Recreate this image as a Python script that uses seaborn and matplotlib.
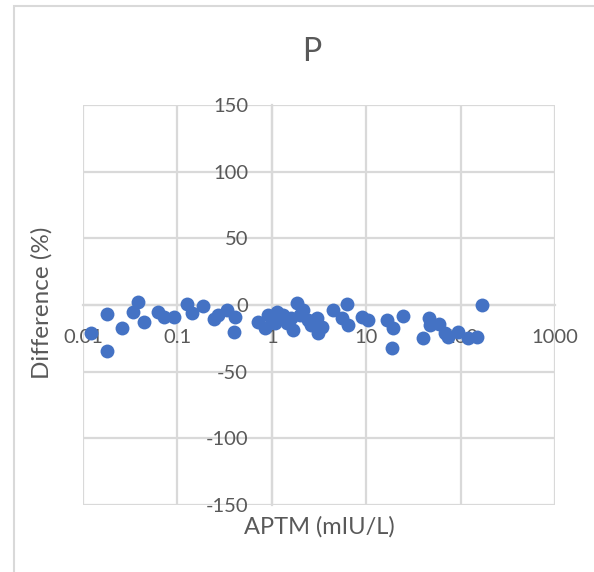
import matplotlib
matplotlib.use("Agg")
import matplotlib.pyplot as plt
import seaborn as sns
import pandas as pd
from matplotlib.patches import Rectangle
from matplotlib.ticker import FixedLocator, NullLocator

# ---- data ----
aptm = [0.0121, 0.0181, 0.0181, 0.0257, 0.038, 0.0341, 0.0444, 0.063, 0.0728, 0.093,
        0.1276, 0.142, 0.186, 0.245, 0.272, 0.334, 0.409, 0.40,
        0.72, 0.847, 0.92, 1.13, 1.08, 1.32, 1.44, 1.83, 1.69, 2.16, 2.44, 2.99,
        3.11, 3.38, 4.49, 5.51, 6.22, 6.46, 8.96, 10.5, 1.0, 1.6, 2.0, 2.6,
        16.5, 19.4, 18.9, 24.4, 40.3, 46.6, 47.4, 59.5, 68.3, 74.0, 94.7, 121.0, 148.0, 167.0]
difference = [-21.2, -7.0, -34.3, -17.0, 2.0, -5.0, -13.0, -5.0, -9.2, -8.8,
              1.0, -6.2, -0.8, -10.5, -7.5, -3.8, -9.2, -20.0,
              -12.5, -17.5, -7.5, -5.0, -13.7, -7.5, -13.7, 1.5, -18.7, -3.8, -11.2, -10.0,
              -21.2, -16.3, -3.8, -10.0, 0.5, -15.0, -8.8, -11.2, -11.0, -10.0, -7.5, -15.0,
              -11.2, -17.5, -32.5, -8.0, -24.5, -9.5, -15.0, -14.5, -21.2, -24.0, -20.0, -25.0, -23.8, 0.0]

x_ticks = [0.01, 0.1, 1, 10, 100, 1000]
x_tick_labels = ["0.01", "0.1", "1", "10", "100", "1000"]
y_ticks = [-150, -100, -50, 0, 50, 100, 150]
y_tick_labels = ["-150", "-100", "-50", "0", "50", "100", "150"]

title = "P"
x_label = "APTM (mIU/L)"
y_label = "Difference (%)"

df = pd.DataFrame({"APTM": aptm, "Difference": difference})

sns.set_style("white")
plt.rcParams["font.family"] = ["Lato", "DejaVu Sans"]

W, H = 594, 572
fig = plt.figure(figsize=(W / 100, H / 100), dpi=100)
fig.patch.set_facecolor("white")

# outer chart border (cut off at right/bottom like the reference)
fig.patches.append(Rectangle((14 / W, -0.05), 1.2, 1 - 6 / H + 0.05, transform=fig.transFigure,
                             fill=False, edgecolor="#D9D9D9", linewidth=1.5))

left, right, top, bottom = 83, 555, 105, 505
ax = fig.add_axes([left / W, 1 - bottom / H, (right - left) / W, (bottom - top) / H])

grid_c = "#D9D9D9"
text_c = "#595959"
blue = "#4472C4"

ax.set_xscale("log")
ax.set_xlim(0.01, 1000)
ax.set_ylim(-150, 150)
ax.xaxis.set_major_locator(FixedLocator(x_ticks))
ax.xaxis.set_minor_locator(NullLocator())
ax.yaxis.set_major_locator(FixedLocator(y_ticks))
ax.set_xticklabels(x_tick_labels)
ax.set_yticklabels(y_tick_labels)

ax.grid(True, color=grid_c, linewidth=1.6)
for gl in ax.get_xgridlines() + ax.get_ygridlines():
    gl.set_clip_on(False)
ax.set_axisbelow(True)

for s in ["top", "right"]:
    ax.spines[s].set_visible(False)
ax.spines["left"].set_position(("data", 1))
ax.spines["bottom"].set_position(("data", 0))
for s in ["left", "bottom"]:
    ax.spines[s].set_color(grid_c)
    ax.spines[s].set_linewidth(1.6)
    ax.spines[s].set_zorder(0.5)

ax.tick_params(axis="both", length=0, labelsize=14.5, labelcolor=text_c)
ax.tick_params(axis="x", pad=17)
ax.tick_params(axis="y", pad=17)

sns.scatterplot(data=df, x="APTM", y="Difference", ax=ax, s=100, color=blue,
                edgecolor=blue, linewidth=0, legend=False, zorder=3)

ax.set_xlabel("")
ax.set_ylabel("")
fig.text(319 / W, 1 - 527 / H, x_label, ha="center", va="center", fontsize=17, color=text_c)
fig.text(42 / W, 1 - 303 / H, y_label, ha="center", va="center", rotation=90, fontsize=17.5, color=text_c)
fig.text(312 / W, 1 - 52 / H, title, ha="center", va="center", fontsize=23, color=text_c)

fig.savefig("out.png", dpi=100, facecolor="white")
